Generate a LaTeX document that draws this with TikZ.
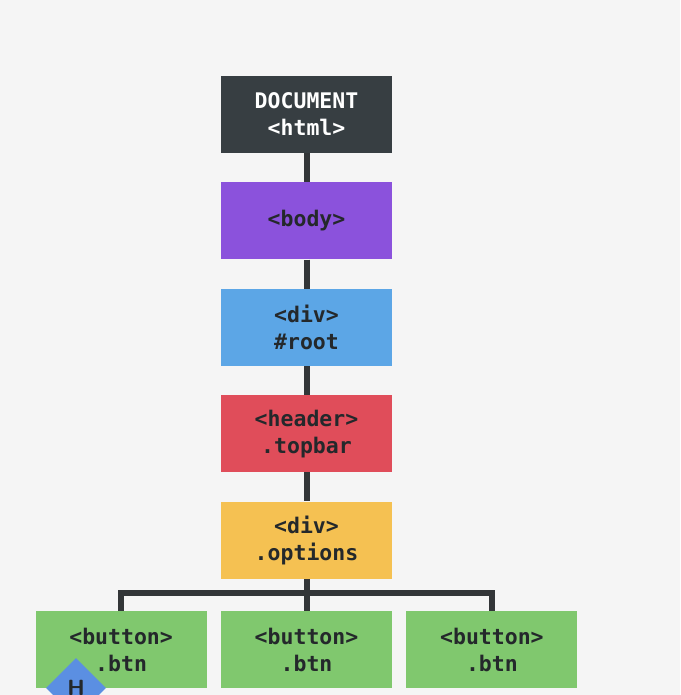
\documentclass[tikz,border=0pt]{standalone}
\usepackage{fontspec}
\setmonofont{DejaVu Sans Mono}
\usetikzlibrary{positioning,shapes.geometric}
\definecolor{bgpaper}{HTML}{F5F5F5}
\definecolor{treeline}{HTML}{333638}
\definecolor{docgray}{HTML}{373E42}
\definecolor{bodypurple}{HTML}{8B52DC}
\definecolor{rootblue}{HTML}{5CA6E6}
\definecolor{headerred}{HTML}{E04D5A}
\definecolor{optyellow}{HTML}{F5C152}
\definecolor{btngreen}{HTML}{80C86E}
\definecolor{markblue}{HTML}{5B8FE2}
\definecolor{textdark}{HTML}{24282B}

\begin{document}
\begin{tikzpicture}[
      x=1pt, y=-1pt,
      node distance=29pt and 14pt,
      elem/.style={rectangle, inner sep=0pt, align=center, minimum width=171pt, minimum height=77pt, text=textdark, font=\ttfamily\bfseries\fontsize{21.5}{27}\selectfont},
      link/.style={line width=6pt, treeline}
    ]
      \fill[bgpaper] (0,0) rectangle (680,695);
      \useasboundingbox (0,0) rectangle (680,695);

      \node[elem, fill=docgray, text=white] (doc) at (306.5,114.5) {DOCUMENT\\<html>};
      \node[elem, fill=bodypurple, below=of doc] (body) {<body>};
      \node[elem, fill=rootblue, below=of body] (root) {<div>\\\#root};
      \node[elem, fill=headerred, below=of root] (topbar) {<header>\\.topbar};
      \node[elem, fill=optyellow, below=of topbar] (options) {<div>\\.options};
      \node[elem, fill=btngreen, below=32pt of options] (btnB) {<button>\\.btn};
      \node[elem, fill=btngreen, left=of btnB] (btnA) {<button>\\.btn};
      \node[elem, fill=btngreen, right=of btnB] (btnC) {<button>\\.btn};
      \coordinate (bus) at (306.5,593);

      \draw[link] (doc) -- (body);
      \draw[link] (body) -- (root);
      \draw[link] (root) -- (topbar);
      \draw[link] (topbar) -- (options);
      \draw[link] (options.south) -- (btnB.north);
      \draw[link, line join=miter] (btnA.north) -- (btnA.north |- bus) -- (btnC.north |- bus) -- (btnC.north);

      % marker half hidden at the bottom edge
      \node[diamond, fill=markblue, inner sep=0pt, minimum width=60pt, minimum height=60pt, text=textdark, font=\sffamily\bfseries\fontsize{22}{26}\selectfont] (mark) at (76,688) {H};
    \end{tikzpicture}
\end{document}
